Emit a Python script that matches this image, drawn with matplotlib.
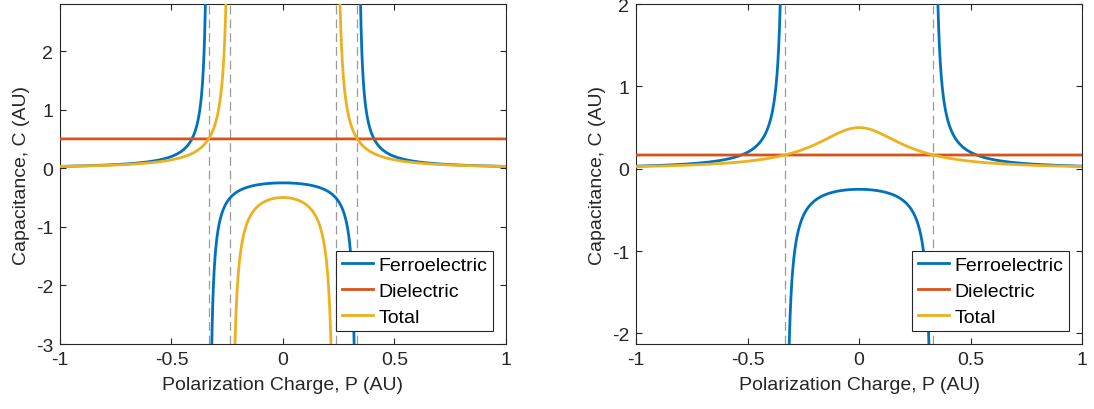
import matplotlib.pyplot as plt
import numpy as np

plt.rcParams['font.family'] = ['Liberation Sans', 'DejaVu Sans']
plt.rcParams['font.size'] = 14
plt.rcParams['axes.unicode_minus'] = False

# Landau model: 1/C_FE = a + b*P^2
landau_a = -4.0
landau_b = 36.0
# dielectric capacitance for each panel
c_dielectric = [0.5, 1.0 / 6.0]
ylims = [(-3.0, 2.8), (-2.13, 2.0)]
yticks = [[-3, -2, -1, 0, 1, 2], [-2, -1, 0, 1, 2]]
xticks = [-1, -0.5, 0, 0.5, 1]
xtick_labels = ['-1', '-0.5', '0', '0.5', '1']
series_names = ['Ferroelectric', 'Dielectric', 'Total']

# MATLAB default colour order
c_blue = '#0072BD'
c_orange = '#D95319'
c_yellow = '#EDB120'
c_axis = '#262626'

p = np.linspace(-1, 1, 8001)


def cut_poles(c, limit=60):
    c = c.copy()
    c[np.abs(c) > limit] = np.nan
    return c


fig = plt.figure(figsize=(10.94, 4.10), dpi=100)
positions = [[0.0548, 0.1585, 0.4077, 0.829], [0.5814, 0.1585, 0.4077, 0.829]]

for k, cd in enumerate(c_dielectric):
    ax = fig.add_axes(positions[k])

    inv_fe = landau_a + landau_b * p ** 2
    inv_tot = inv_fe + 1.0 / cd
    c_fe = cut_poles(1.0 / inv_fe)
    c_tot = cut_poles(1.0 / inv_tot)

    # poles of the ferroelectric and total curves
    poles = [np.sqrt(-landau_a / landau_b)]
    if landau_a + 1.0 / cd < 0:
        poles.append(np.sqrt(-(landau_a + 1.0 / cd) / landau_b))
    for x0 in poles:
        for s in (-1, 1):
            ax.axvline(s * x0, color='#9a9a9a', linestyle=(0, (7, 4)),
                       linewidth=0.9, zorder=1)

    ax.plot(p, c_fe, color=c_blue, linewidth=2, label=series_names[0], zorder=3)
    ax.plot(p, np.full_like(p, cd), color=c_orange, linewidth=2,
            label=series_names[1], zorder=3)
    ax.plot(p, c_tot, color=c_yellow, linewidth=2, label=series_names[2], zorder=3)

    ax.set_xlim(-1, 1)
    ax.set_ylim(*ylims[k])
    ax.set_xticks(xticks)
    ax.set_xticklabels(xtick_labels)
    ax.set_yticks(yticks[k])
    ax.tick_params(direction='in', top=True, right=True, length=4,
                   width=0.8, colors=c_axis, labelsize=14, pad=5)
    for sp in ax.spines.values():
        sp.set_color(c_axis)
        sp.set_linewidth(0.8)
    ax.set_xlabel('Polarization Charge, P (AU)', color=c_axis, fontsize=14, labelpad=6)
    ax.set_ylabel('Capacitance, C (AU)', color=c_axis, fontsize=14, labelpad=4)

    leg = ax.legend(loc='lower right', fontsize=14, fancybox=False,
                    framealpha=1, edgecolor=c_axis, handlelength=1.6,
                    handletextpad=0.3, labelspacing=0.42, borderpad=0.3,
                    borderaxespad=0.65)
    leg.get_frame().set_linewidth(0.8)

fig.savefig('out.png', dpi=100)
